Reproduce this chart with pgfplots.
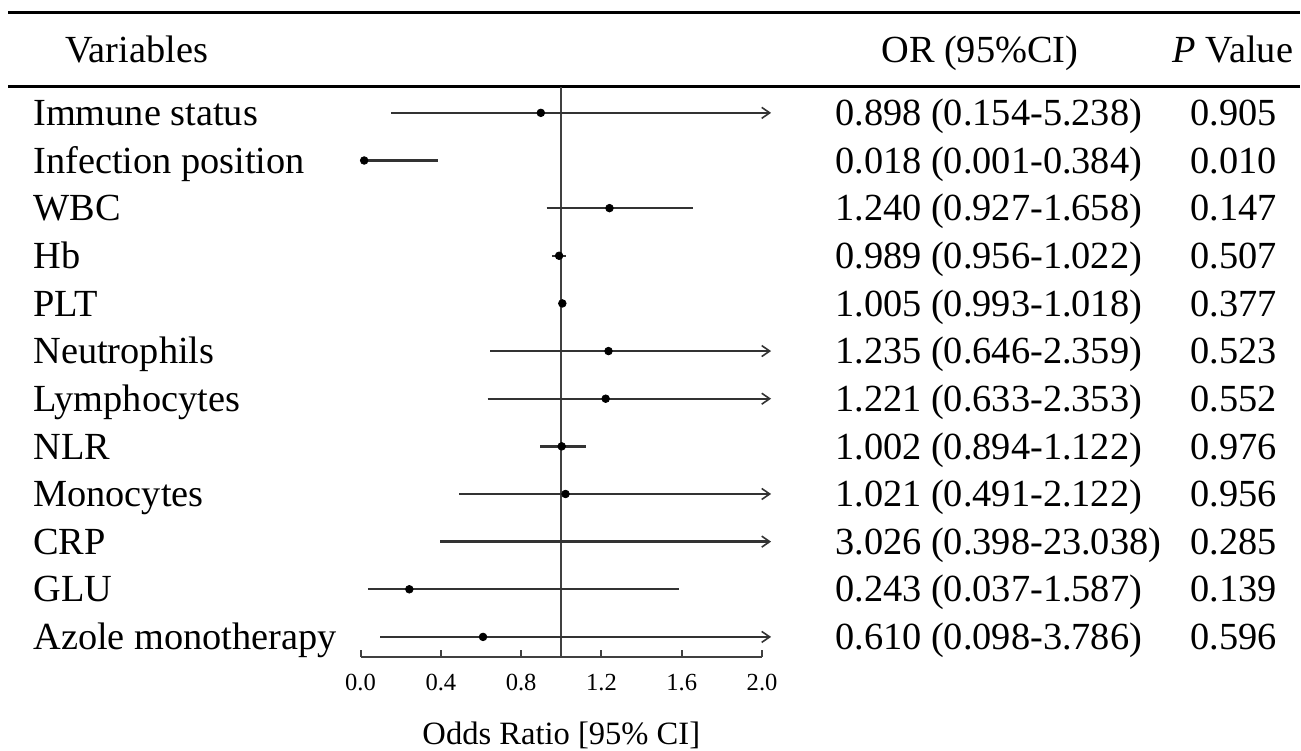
\documentclass[border=0pt]{standalone}
\usepackage{fontspec}
\setmainfont{Liberation Serif}
\usepackage{pgfplots}
\pgfplotsset{compat=1.18}
\usepackage{pgfplotstable}
\usetikzlibrary{arrows.meta}

% y = 13 - row index
\pgfplotstableread{
y   or     lo     hi
12  0.898  0.154  5.238
11  0.018  0.001  0.384
10  1.240  0.927  1.658
9   0.989  0.956  1.022
8   1.005  0.993  1.018
7   1.235  0.646  2.359
6   1.221  0.633  2.353
5   1.002  0.894  1.122
4   1.021  0.491  2.122
3   3.026  0.398  23.038
2   0.243  0.037  1.587
1   0.610  0.098  3.786
}\ordata

\newcommand\tfont{\fontsize{19.2}{23}\selectfont}
\newcommand\orrow[4]{%
  \node[anchor=base west, inner sep=0pt, font=\tfont] at (axis cs:-1.632,#1) {#2};
  \node[anchor=base west, inner sep=0pt, font=\tfont] at (axis cs:2.363,#1) {#3};
  \node[anchor=base east, inner sep=0pt, font=\tfont] at (axis cs:4.567,#1) {#4};
}

\begin{document}
\begin{tikzpicture}
\begin{axis}[
  scale only axis, width=201pt, height=285.5pt,
  xmin=0, xmax=2, ymin=0.574, ymax=12.545,
  axis x line=bottom, axis y line=none,
  axis line style={-, black!75, line width=1pt},
  xtick={0,0.4,0.8,1.2,1.6,2.0},
  tick align=inside, major tick length=3.5pt,
  tick style={black!75, line width=1pt},
  /pgf/number format/fixed, /pgf/number format/fixed zerofill,
  /pgf/number format/precision=1, /pgf/number format/assume math mode=true,
  xticklabel style={font=\fontsize{12.3}{14}\selectfont, anchor=base, yshift=-16.65pt},
  ytick=\empty,
  clip=false,
  ci/.style={black!80, line width=1.2pt},
  ciarrow/.style={black!80, line width=1.2pt, -{Straight Barb[length=4pt,width=5.5pt,line width=0.8pt]}},
]
% bounding box of the whole figure
\path (axis cs:-1.796,-1.375) rectangle (axis cs:4.677,14.369);

% table rules
\draw[line width=1.5pt, black] (axis cs:-1.756,14.103) -- (axis cs:4.677,14.103);
\draw[line width=1.5pt, black] (axis cs:-1.756,12.545) -- (axis cs:4.677,12.545);

% reference line
\addplot[black!75, line width=1pt] coordinates {(1,0.574) (1,12.545)};

% confidence intervals
\addplot[ciarrow] coordinates {(0.154,12) (2.045,12)};
\addplot[ci] coordinates {(0.001,11) (0.384,11)};
\addplot[ci] coordinates {(0.927,10) (1.658,10)};
\addplot[ci] coordinates {(0.956,9) (1.022,9)};
\addplot[ci] coordinates {(0.993,8) (1.018,8)};
\addplot[ciarrow] coordinates {(0.646,7) (2.045,7)};
\addplot[ciarrow] coordinates {(0.633,6) (2.045,6)};
\addplot[ci] coordinates {(0.894,5) (1.122,5)};
\addplot[ciarrow] coordinates {(0.491,4) (2.045,4)};
\addplot[ciarrow] coordinates {(0.398,3) (2.045,3)};
\addplot[ci] coordinates {(0.037,2) (1.587,2)};
\addplot[ciarrow] coordinates {(0.098,1) (2.045,1)};

% point estimates
\addplot[only marks, mark=*, mark size=1.9pt, black, restrict x to domain=0:2]
  table[x=or, y=y] {\ordata};

% header
\node[anchor=base west, inner sep=0pt, font=\tfont] at (axis cs:-1.473,13.0545) {Variables};
\node[anchor=base west, inner sep=0pt, font=\tfont] at (axis cs:2.592,13.0545) {OR (95\%CI)};
\node[anchor=base east, inner sep=0pt, font=\tfont] at (axis cs:4.647,13.0545) {\textit{P} Value};

% rows
\orrow{11.734}{Immune status}{0.898 (0.154-5.238)}{0.905}
\orrow{10.734}{Infection position}{0.018 (0.001-0.384)}{0.010}
\orrow{9.734}{WBC}{1.240 (0.927-1.658)}{0.147}
\orrow{8.734}{Hb}{0.989 (0.956-1.022)}{0.507}
\orrow{7.734}{PLT}{1.005 (0.993-1.018)}{0.377}
\orrow{6.734}{Neutrophils}{1.235 (0.646-2.359)}{0.523}
\orrow{5.734}{Lymphocytes}{1.221 (0.633-2.353)}{0.552}
\orrow{4.734}{NLR}{1.002 (0.894-1.122)}{0.976}
\orrow{3.734}{Monocytes}{1.021 (0.491-2.122)}{0.956}
\orrow{2.734}{CRP}{3.026 (0.398-23.038)}{0.285}
\orrow{1.734}{GLU}{0.243 (0.037-1.587)}{0.139}
\orrow{0.734}{Azole monotherapy}{0.610 (0.098-3.786)}{0.596}

% x label
\node[anchor=base, inner sep=0pt, font=\fontsize{16.3}{18}\selectfont] at (axis cs:1,-1.266) {Odds Ratio [95\% CI]};
\end{axis}
\end{tikzpicture}
\end{document}
